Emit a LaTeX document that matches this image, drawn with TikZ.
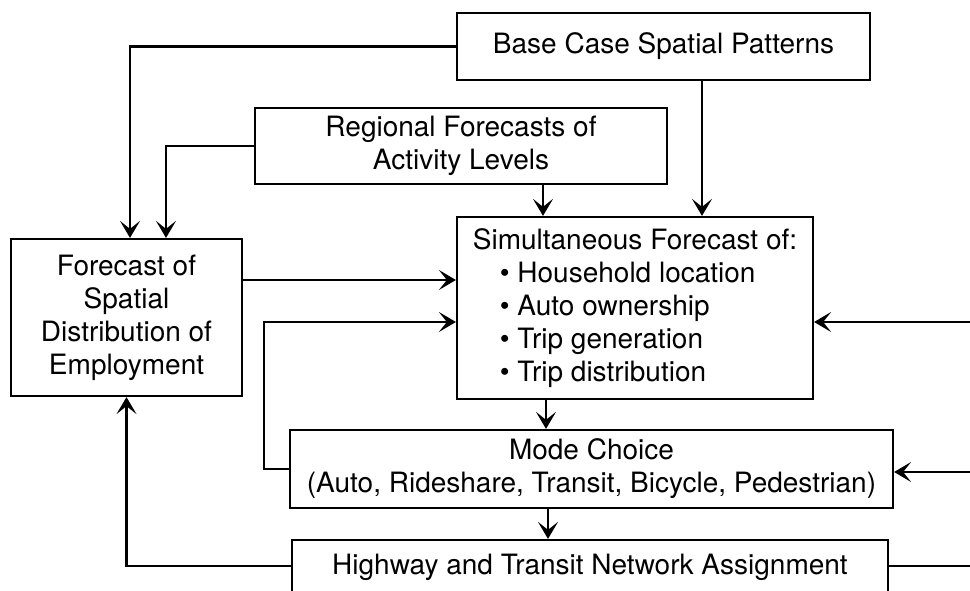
\documentclass[tikz,border=0pt]{standalone}
\usepackage{fontspec}
\setmainfont{TeX Gyre Heros}
\usetikzlibrary{arrows.meta,calc}

\tikzset{
  box/.style={draw, line width=2.2pt, inner sep=0pt, align=center,
              font=\fontsize{28pt}{33pt}\selectfont},
  link/.style={line width=2.2pt},
  arr/.style={link, -{Stealth[length=17pt,width=20pt,inset=8pt]}}
}

\begin{document}
\begin{tikzpicture}[x=1pt,y=-1pt]
  \useasboundingbox (0,0) rectangle (970,591);
  \clip (0,0) rectangle (970,591);

  % process boxes
  \node[box, minimum width=413pt, minimum height=67pt] (base) at (663.5,46.5)
    {Base Case Spatial Patterns};
  \node[box, minimum width=412pt, minimum height=76pt] (reg) at (461,146)
    {Regional Forecasts of\\Activity Levels};
  \node[box, minimum width=231pt, minimum height=157pt] (fore) at (126.5,317.5)
    {Forecast of\\Spatial\\Distribution of\\Employment};
  \node[box, align=left, minimum width=356pt, minimum height=182pt] (sim) at (635,308)
    {Simultaneous Forecast of:\\
     \hspace*{27pt}\textbullet\ Household location\\
     \hspace*{27pt}\textbullet\ Auto ownership\\
     \hspace*{27pt}\textbullet\ Trip generation\\
     \hspace*{27pt}\textbullet\ Trip distribution};
  \node[box, minimum width=603pt, minimum height=78pt] (mode) at (591.5,469)
    {Mode Choice\\(Auto, Rideshare, Transit, Bicycle, Pedestrian)};
  \node[box, minimum width=596pt, minimum height=55pt] (hwy) at (590,567.5)
    {Highway and Transit Network Assignment};

  % bend points and loose ends at the right margin
  \coordinate (loopx) at (264,0);
  \coordinate (inS) at (970,322);
  \coordinate (inM) at (970,472);
  \coordinate (outH) at (970,566);

  % inputs to the employment forecast
  \draw[arr] (base.west) -| ([xshift=3.5pt]fore.north);
  \draw[arr] (reg.west) -| ([xshift=39.5pt]fore.north);

  % inputs to the simultaneous forecast
  \draw[arr] ([xshift=38.5pt]base.south) -- ([xshift=38.5pt]base.south |- sim.north);
  \draw[arr] ([xshift=82pt]reg.south) -- ([xshift=82pt]reg.south |- sim.north);
  \draw[arr] ([yshift=37.5pt]fore.east) -- ([yshift=37.5pt]fore.east -| sim.west);

  % main chain
  \draw[arr] ([xshift=-89pt]sim.south) -- ([xshift=-89pt]sim.south |- mode.north);
  \draw[arr] ([xshift=-43.5pt]mode.south) -- ([xshift=-43.5pt]mode.south |- hwy.north);

  % feedback from mode choice
  \draw[arr] (mode.west) -| (loopx |- inS) -- (inS -| sim.west);

  % feedback from network assignment
  \draw[arr] ([yshift=1.5pt]hwy.west) -| (fore.south);
  \draw[link] ([yshift=1.5pt]hwy.east) -- (outH);

  % inputs entering from the right
  \draw[arr] (inS) -- (inS -| sim.east);
  \draw[arr] (inM) -- (inM -| mode.east);
\end{tikzpicture}
\end{document}
